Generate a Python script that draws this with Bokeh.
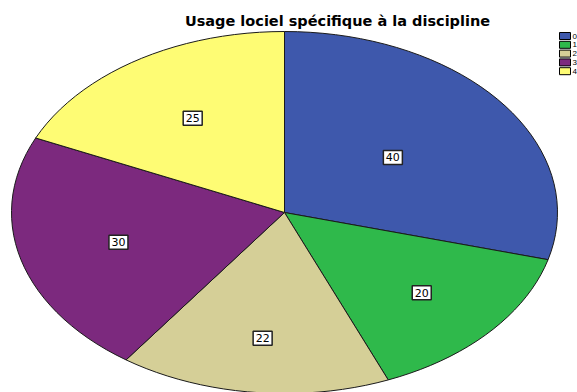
import math
from bokeh.plotting import figure
from bokeh.models import Range1d, ColumnDataSource
from bokeh.core.properties import value
from bokeh.embed import file_html
from bokeh.resources import INLINE

# ---- data ----
categories = ["0", "1", "2", "3", "4"]
counts = [40, 20, 22, 30, 25]
colors = ["#3E58AC", "#2FB94B", "#D5CF97", "#7C297E", "#FEFC74"]
title_text = "Usage lociel spécifique à la discipline"

# ---- layout (styles/positions) ----
W, H = 577, 392
cx, cy, rx, ry = 284, 212, 273, 181
label_frac = [0.50, 0.67, 0.70, 0.63, 0.62]

p = figure(width=W, height=H, output_backend="svg", toolbar_location=None,
           x_range=Range1d(0, W), y_range=Range1d(H, 0),
           min_border=0, outline_line_color=None)
p.axis.visible = False
p.grid.visible = False
p.background_fill_color = "white"
p.border_fill_color = "white"

total = sum(counts)
xs, ys, lx, ly, txt = [], [], [], [], []
cum = 0.0
for i, c in enumerate(counts):
    a0 = cum / total * 2 * math.pi
    cum += c
    a1 = cum / total * 2 * math.pi
    n = max(4, int(120 * (a1 - a0) / (2 * math.pi)) + 4)
    px, py = [cx], [cy]
    for k in range(n + 1):
        t = a0 + (a1 - a0) * k / n
        px.append(cx + rx * math.sin(t))
        py.append(cy - ry * math.cos(t))
    xs.append(px)
    ys.append(py)
    am = (a0 + a1) / 2
    lx.append(cx + label_frac[i] * rx * math.sin(am))
    ly.append(cy - label_frac[i] * ry * math.cos(am))
    txt.append(str(c))

src = ColumnDataSource(dict(xs=xs, ys=ys, color=colors))
p.patches("xs", "ys", source=src, fill_color="color", line_color="#1a1a1a", line_width=1)

lsrc = ColumnDataSource(dict(x=lx, y=ly, t=txt))
p.rect("x", "y", width=19, height=14, source=lsrc, fill_color="white",
       line_color="#222222", line_width=1.5)
p.text("x", "y", text="t", source=lsrc, text_font=value("DejaVu Sans"),
       text_font_size="11px", text_color="black", text_align="center",
       text_baseline="middle")

# title
p.text(x=[337], y=[20], text=[title_text], text_font=value("DejaVu Sans"),
       text_font_style="bold", text_font_size="14.5px", text_align="center",
       text_baseline="middle", text_color="black")

# legend (cut off at right edge)
leg_y = [35.5 + 8.8 * i for i in range(len(categories))]
p.rect(x=[564.5] * len(categories), y=leg_y, width=11, height=7,
       fill_color=colors, line_color="black", line_width=1)
p.text(x=[572] * len(categories), y=leg_y, text=categories,
       text_font=value("Liberation Sans"), text_font_size="8px",
       text_baseline="middle", text_color="black")

open("out.html", "w").write(file_html(p, INLINE))
